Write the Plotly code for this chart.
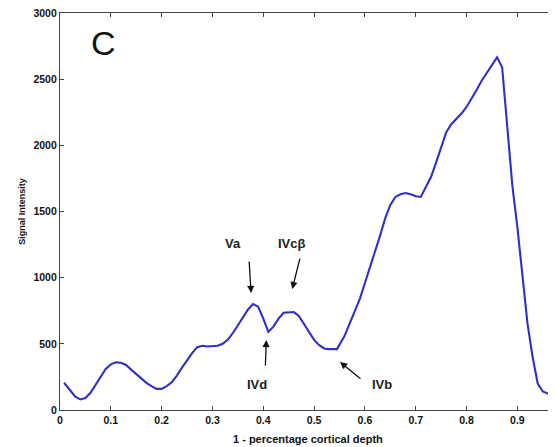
import plotly.graph_objects as go

depth = [0.008, 0.02, 0.03, 0.04, 0.05, 0.06, 0.07, 0.08, 0.09, 0.10,
         0.11, 0.12, 0.13, 0.14, 0.15, 0.16, 0.17, 0.18, 0.19, 0.20,
         0.21, 0.22, 0.23, 0.24, 0.25, 0.26, 0.27, 0.28, 0.29, 0.30,
         0.31, 0.32, 0.33, 0.34, 0.35, 0.36, 0.37, 0.38, 0.39, 0.40,
         0.41, 0.42, 0.43, 0.44, 0.45, 0.46, 0.47, 0.48, 0.49, 0.50,
         0.51, 0.52, 0.53, 0.545, 0.56, 0.57, 0.58, 0.59, 0.60,
         0.61, 0.62, 0.63, 0.64, 0.65, 0.66, 0.67, 0.68, 0.69, 0.70,
         0.71, 0.72, 0.73, 0.74, 0.75, 0.76, 0.77, 0.78, 0.79, 0.80,
         0.81, 0.82, 0.83, 0.84, 0.85, 0.86, 0.87, 0.88, 0.89, 0.90,
         0.91, 0.92, 0.93, 0.94, 0.95, 0.96, 0.97, 0.98]
signal = [206, 150, 100, 80, 90, 130, 190, 260, 310, 345,
          360, 357, 340, 305, 270, 235, 205, 180, 160, 160,
          180, 210, 260, 320, 380, 430, 475, 485, 480, 480,
          485, 500, 530, 580, 640, 700, 760, 800, 780, 690,
          590, 630, 690, 735, 740, 740, 710, 650, 590, 530,
          490, 465, 460, 460, 560, 650, 740, 840, 960,
          1073, 1200, 1320, 1450, 1550, 1610, 1630, 1640, 1630, 1615,
          1610, 1680, 1760, 1870, 1980, 2100, 2160, 2200, 2240, 2290,
          2350, 2420, 2490, 2550, 2610, 2665, 2590, 2150, 1700, 1380,
          1000, 650, 400, 200, 140, 125, 110, 95]

x_ticks = [0, 0.1, 0.2, 0.3, 0.4, 0.5, 0.6, 0.7, 0.8, 0.9]
y_ticks = [0, 500, 1000, 1500, 2000, 2500, 3000]
x_title = "1 - percentage cortical depth"
y_title = "Signal Intensity"

# annotation labels: text, arrow-head (x, y), tail offset px, label (x, y)
labels = ["Va", "IVc\u03b2", "IVd", "IVb"]
head_x = [0.376, 0.457, 0.406, 0.551]
head_y = [884, 914, 529, 363]
tail_dx = [-2, 8, -1, 22]
tail_dy = [-33, -32, 27, 18]
text_x = [0.341, 0.457, 0.388, 0.634]
text_y = [1262, 1262, 196, 189]

fig = go.Figure()
fig.add_trace(go.Scatter(x=depth, y=signal, mode="lines",
                         line=dict(color="#3030c8", width=2.1),
                         showlegend=False, hoverinfo="skip"))

for i, t in enumerate(labels):
    fig.add_annotation(x=head_x[i], y=head_y[i], xref="x", yref="y",
                       ax=tail_dx[i], ay=tail_dy[i], text="",
                       showarrow=True, arrowhead=2, arrowsize=1.1,
                       arrowwidth=1.3, arrowcolor="#111111")
    fig.add_annotation(x=text_x[i], y=text_y[i], xref="x", yref="y",
                       text=t, showarrow=False,
                       font=dict(family="Liberation Sans", size=13,
                                 color="#222222", weight="bold"))

fig.add_annotation(x=0.085, y=2770, xref="x", yref="y", text="C",
                   showarrow=False,
                   font=dict(family="Liberation Sans", size=34, color="#111111"))

# x-axis title placed as a paper annotation for exact vertical position
fig.add_annotation(x=0.5, y=0, xref="paper", yref="paper",
                   xanchor="center", yanchor="top", yshift=-21,
                   text=x_title, showarrow=False,
                   font=dict(family="Liberation Sans", size=11,
                             color="#111111", weight="bold"))

tick_font = dict(family="Liberation Sans", size=10.5, color="#111111", weight="bold")

# page body has an 8px margin, so the figure is sized to end at the window edge
fig.update_layout(
    width=548, height=439,
    margin=dict(l=52, r=0, t=5, b=37),
    paper_bgcolor="white", plot_bgcolor="white",
    xaxis=dict(range=[0, 0.976], tickvals=x_ticks,
               ticktext=[("%g" % v) for v in x_ticks],
               ticks="inside", ticklen=4, tickcolor="#444444",
               showline=True, linecolor="#444444", linewidth=1.3,
               mirror="ticks", showgrid=False, zeroline=False,
               tickfont=tick_font, automargin=False,
               ticklabeloverflow="allow"),
    yaxis=dict(range=[0, 3000], tickvals=y_ticks,
               ticks="inside", ticklen=4, tickcolor="#444444",
               showline=True, linecolor="#444444", linewidth=1.3,
               showgrid=False, zeroline=False,
               tickfont=tick_font, automargin=False,
               ticklabeloverflow="allow",
               title=dict(text=y_title,
                          font=dict(family="Liberation Sans", size=9,
                                    color="#111111", weight="bold"),
                          standoff=6)),
)

fig.write_html("out.html")
